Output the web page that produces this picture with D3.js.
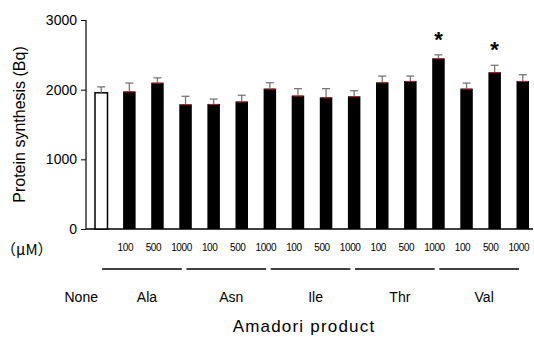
<!DOCTYPE html>
<html>
<head>
<meta charset="utf-8">
<script src="https://cdn.jsdelivr.net/npm/d3@7"></script>
<style>
  body { margin: 0; background: #fff; }
  svg { display: block; font-family: "Liberation Sans", Arial, sans-serif; }
</style>
</head>
<body>
<svg width="534" height="337"></svg>
<script>
// data
const groups = ["None", "Ala", "Asn", "Ile", "Thr", "Val"];
const doses = ["100", "500", "1000"];
const means = [1955, 1975, 2100, 1790, 1795, 1830, 2015, 1915, 1890, 1905, 2105, 2125, 2450, 2015, 2250, 2125];
const errors = [85, 120, 70, 115, 70, 90, 85, 100, 125, 80, 90, 70, 50, 80, 100, 90];
const starred = [12, 14];
const yTicks = [0, 1000, 2000, 3000];

function main(){
  const svg = d3.select("svg");

  // one entry per bar
  const bars = means.map((m, i) => ({
    id: i,
    group: i === 0 ? "None" : groups[Math.floor((i - 1) / 3) + 1],
    dose: i === 0 ? "" : doses[(i - 1) % 3],
    mean: m,
    err: errors[i]
  }));

  const xScale = d3.scaleBand().domain(bars.map(d => d.id)).range([86, 538]).paddingInner(0.555).paddingOuter(0.32);
  const yScale = d3.scaleLinear().domain([0, 3000]).range([229, 20]);
  const bw = xScale.bandwidth();

  // y axis
  const yAxis = d3.axisLeft(yScale).tickValues(yTicks).tickSize(5).tickPadding(4).tickFormat(d3.format("d"));
  const gy = svg.append("g").attr("transform", "translate(86,0)").call(yAxis);
  gy.select(".domain").attr("d", "M0," + yScale(3000) + "V" + yScale(0)).attr("stroke", "#000").attr("stroke-width", 1.2);
  gy.selectAll(".tick line").attr("stroke", "#000");
  gy.selectAll(".tick text").attr("font-size", 14).attr("fill", "#000")
    .attr("font-family", "Liberation Sans, Arial, sans-serif");

  // x axis baseline
  svg.append("line").attr("x1", 86).attr("x2", 533).attr("y1", yScale(0)).attr("y2", yScale(0))
    .attr("stroke", "#000").attr("stroke-width", 1.4);

  svg.append("text").attr("transform", "translate(25," + yScale(1500) + ") rotate(-90)")
    .attr("text-anchor", "middle").attr("font-size", 16).text("Protein synthesis (Bq)");

  // bars
  svg.selectAll("rect.bar").data(bars).enter().append("rect")
    .attr("class", "bar")
    .attr("x", d => xScale(d.id))
    .attr("y", d => yScale(d.mean))
    .attr("width", bw)
    .attr("height", d => yScale(0) - yScale(d.mean))
    .attr("fill", d => d.id === 0 ? "#fff" : "#000")
    .attr("stroke", "#000")
    .attr("stroke-width", d => d.id === 0 ? 1.5 : 0);

  // error bars
  const eb = svg.selectAll("g.err").data(bars).enter().append("g").attr("class", "err");
  eb.append("line")
    .attr("x1", d => xScale(d.id) + bw / 2).attr("x2", d => xScale(d.id) + bw / 2)
    .attr("y1", d => yScale(d.mean)).attr("y2", d => yScale(d.mean + d.err))
    .attr("stroke", "#777").attr("stroke-width", 1.3);
  eb.append("line")
    .attr("x1", d => xScale(d.id) + bw / 2 - 4).attr("x2", d => xScale(d.id) + bw / 2 + 4)
    .attr("y1", d => yScale(d.mean + d.err)).attr("y2", d => yScale(d.mean + d.err))
    .attr("stroke", "#777").attr("stroke-width", 1.3);
  eb.filter(d => d.id > 0).append("line")
    .attr("x1", d => xScale(d.id) + 1).attr("x2", d => xScale(d.id) + bw - 1)
    .attr("y1", d => yScale(d.mean) + 0.5).attr("y2", d => yScale(d.mean) + 0.5)
    .attr("stroke", "#b02020").attr("stroke-width", 1);

  // significance stars
  svg.selectAll("text.star").data(starred).enter().append("text")
    .attr("class", "star")
    .attr("x", i => xScale(i) + bw / 2)
    .attr("y", i => yScale(means[i] + errors[i]) - 8)
    .attr("text-anchor", "middle").attr("font-size", 22).attr("font-weight", "bold")
    .text("*");

  // dose labels
  svg.selectAll("text.dose").data(bars.filter(d => d.id > 0)).enter().append("text")
    .attr("class", "dose")
    .attr("x", d => xScale(d.id) + bw / 2 - 4)
    .attr("y", 251)
    .attr("text-anchor", "middle").attr("font-size", 10).attr("letter-spacing", -0.4)
    .text(d => d.dose);

  svg.append("text").attr("x", 1).attr("y", 255).attr("font-size", 15)
    .attr("font-family", "Noto Sans CJK JP, sans-serif").text("（μM）");

  // group lines and labels
  groups.forEach((g, gi) => {
    if (gi === 0) {
      svg.append("text").attr("x", xScale(0) + bw / 2 - 20).attr("y", 302)
        .attr("text-anchor", "middle").attr("font-size", 14).text(g);
      return;
    }
    const first = (gi - 1) * 3 + 1;
    const x1 = xScale(first) - 21;
    const x2 = xScale(first + 2) + bw - 10;
    svg.append("line").attr("x1", x1).attr("x2", x2).attr("y1", 269).attr("y2", 269)
      .attr("stroke", "#000").attr("stroke-width", 1.3);
    svg.append("text").attr("x", (x1 + x2) / 2 + 5).attr("y", 302)
      .attr("text-anchor", "middle").attr("font-size", 14).text(g);
  });

  svg.append("text").attr("x", 304).attr("y", 332).attr("text-anchor", "middle")
    .attr("font-size", 17).attr("letter-spacing", 1.2).text("Amadori product");
}

main();
</script>
</body>
</html>
